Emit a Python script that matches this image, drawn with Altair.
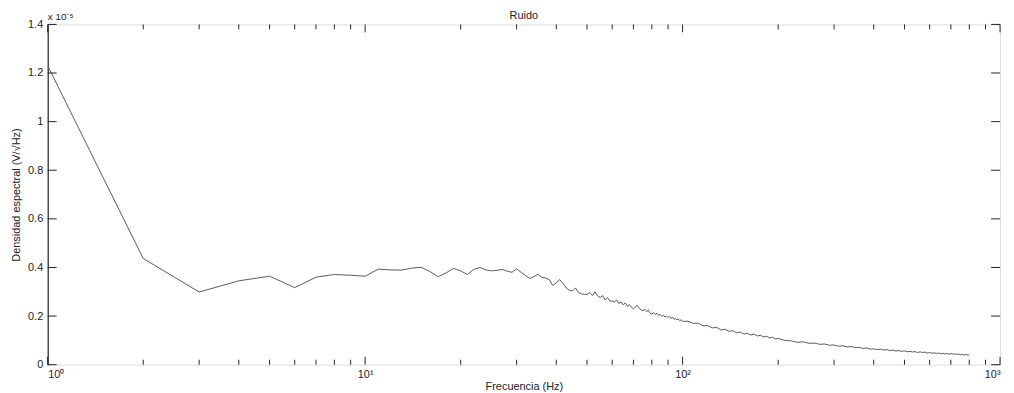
import altair as alt
import pandas as pd

# Frequencies (Hz) and spectral density (x 1e-5)
freq = list(range(1, 101)) + list(range(104, 201, 4)) + list(range(210, 801, 10))
dens = [
    1.23, 0.437, 0.299, 0.345, 0.364, 0.317, 0.360, 0.371, 0.368, 0.364,
    0.393, 0.390, 0.389, 0.397, 0.401, 0.383, 0.362, 0.378, 0.396, 0.386,
    0.371, 0.392, 0.400, 0.390, 0.386, 0.388, 0.392, 0.385, 0.380, 0.394,
    0.380, 0.367, 0.355, 0.362, 0.372, 0.360, 0.356, 0.350, 0.326, 0.337,
    0.350, 0.334, 0.316, 0.306, 0.303, 0.316, 0.296, 0.291, 0.290, 0.289,
    0.297, 0.285, 0.300, 0.283, 0.276, 0.284, 0.266, 0.276, 0.262, 0.262,
    0.258, 0.266, 0.252, 0.258, 0.246, 0.254, 0.240, 0.247, 0.236, 0.229,
    0.238, 0.244, 0.232, 0.226, 0.222, 0.228, 0.218, 0.224, 0.212, 0.208,
    0.214, 0.206, 0.212, 0.202, 0.207, 0.198, 0.204, 0.196, 0.200, 0.194,
    0.199, 0.190, 0.195, 0.186, 0.191, 0.184, 0.188, 0.181, 0.185, 0.178,
    # 104..200 step 4
    0.179, 0.170, 0.171, 0.160, 0.161, 0.151, 0.154, 0.143, 0.146, 0.137,
    0.140, 0.131, 0.134, 0.126, 0.129, 0.122, 0.126, 0.118, 0.121, 0.114,
    0.117, 0.110, 0.113, 0.106, 0.108,
    # 210..800 step 10
    0.100, 0.098, 0.092, 0.094, 0.088, 0.089, 0.084, 0.085, 0.080, 0.081,
    0.076, 0.078, 0.073, 0.075, 0.070, 0.071, 0.067, 0.069, 0.064, 0.065,
    0.062, 0.064, 0.060, 0.062, 0.058, 0.060, 0.056, 0.058, 0.055, 0.057,
    0.053, 0.055, 0.052, 0.054, 0.050, 0.053, 0.050, 0.052, 0.048, 0.050,
    0.047, 0.049, 0.046, 0.048, 0.045, 0.047, 0.044, 0.046, 0.043, 0.046,
    0.043, 0.045, 0.042, 0.044, 0.041, 0.043, 0.040, 0.042, 0.040, 0.041,
]

x_major = [1, 10, 100, 1000]
x_labels = ["10⁰", "10¹", "10²", "10³"]
x_minor = [2, 3, 4, 5, 6, 7, 8, 9, 20, 30, 40, 50, 60, 70, 80, 90,
           200, 300, 400, 500, 600, 700, 800, 900]
y_ticks = [0, 0.2, 0.4, 0.6, 0.8, 1.0, 1.2, 1.4]
exponent_text = ["x 10⁻⁵"]
title_text = ["Ruido"]

W, H = 960, 343
FONT = "Liberation Sans"

df = pd.DataFrame({"f": freq, "d": dens})
df_xmaj = pd.DataFrame({"f": x_major})
df_xmin = pd.DataFrame({"f": x_minor})
df_y = pd.DataFrame({"d": y_ticks})
df_txt = pd.DataFrame({"t": exponent_text})
df_title = pd.DataFrame({"t": title_text})

label_expr = " : ".join(
    f"datum.value == {v} ? '{l}'" for v, l in zip(x_major, x_labels)
) + " : ''"

xscale = alt.Scale(type="log", domain=[1, 1000], nice=False)
yscale = alt.Scale(domain=[0, 1.4], nice=False, zero=False)

xaxis = alt.Axis(
    values=x_major, labelExpr=label_expr, title="Frecuencia (Hz)",
    ticks=False, domain=False, grid=False, labelPadding=4, titlePadding=1,
    labelFontSize=11, titleFontSize=11, titleFontWeight="normal",
    labelColor="#222", titleColor="#222", labelFont=FONT, titleFont=FONT)
yaxis = alt.Axis(
    values=y_ticks, format="~g", title="Densidad espectral (V/√Hz)",
    ticks=False, domain=True, domainColor="#000", grid=False,
    labelPadding=5, titlePadding=6, labelFontSize=11, titleFontSize=11,
    titleFontWeight="normal", labelColor="#222", titleColor="#222",
    labelFont=FONT, titleFont=FONT)

X = alt.X("f:Q", scale=xscale, axis=xaxis)
Y = alt.Y("d:Q", scale=yscale, axis=yaxis)

line = alt.Chart(df).mark_line(color="#5a5a5a", strokeWidth=1, clip=True).encode(x=X, y=Y)

tick_color = "#222"
xmaj_bot = alt.Chart(df_xmaj).mark_rule(color=tick_color).encode(
    x=X, y=alt.value(H), y2=alt.value(H - 8))
xmaj_top = alt.Chart(df_xmaj).mark_rule(color=tick_color).encode(
    x=X, y=alt.value(0), y2=alt.value(8))
xmin_bot = alt.Chart(df_xmin).mark_rule(color=tick_color).encode(
    x=X, y=alt.value(H), y2=alt.value(H - 5))
xmin_top = alt.Chart(df_xmin).mark_rule(color=tick_color).encode(
    x=X, y=alt.value(0), y2=alt.value(5))
y_left = alt.Chart(df_y).mark_rule(color=tick_color).encode(
    y=Y, x=alt.value(0), x2=alt.value(9))
y_right = alt.Chart(df_y).mark_rule(color=tick_color).encode(
    y=Y, x=alt.value(W), x2=alt.value(W - 9))

exp_text = alt.Chart(df_txt).mark_text(
    align="left", baseline="alphabetic", fontSize=10, font=FONT, color="#222"
).encode(x=alt.value(0), y=alt.value(-4), text="t:N")

title_mark = alt.Chart(df_title).mark_text(
    align="center", baseline="alphabetic", fontSize=11, font=FONT, color="#222"
).encode(x=alt.value(W / 2), y=alt.value(-5), text="t:N")

chart = alt.layer(
    line, xmaj_bot, xmaj_top, xmin_bot, xmin_top, y_left, y_right, exp_text, title_mark
).properties(
    width=W, height=H,
    autosize=alt.AutoSizeParams(type="none"),
    padding={"left": 40, "top": 15, "right": 6, "bottom": 27},
).configure_view(stroke="#999", strokeWidth=1).configure(background="white")

chart.save("out.html", embed_options={"renderer": "svg", "actions": False})
